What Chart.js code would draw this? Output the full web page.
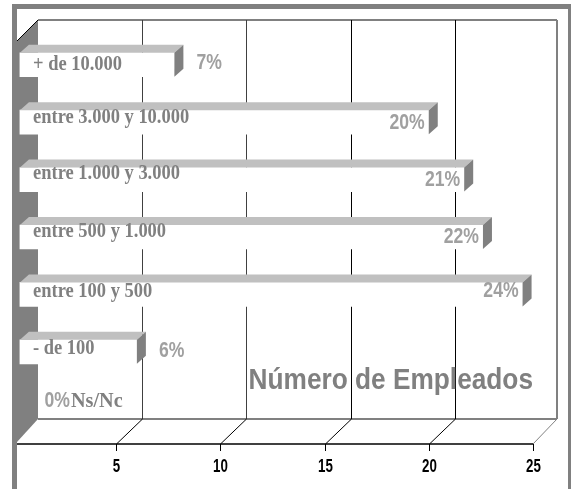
<!DOCTYPE html>
<html>
<head>
<meta charset="utf-8">
<title>Número de Empleados</title>
<script src="https://cdn.jsdelivr.net/npm/chart.js@4"></script>
<style>
  html, body { margin: 0; background: #fff; }
  #wrap { width: 571px; height: 489px; }
</style>
</head>
<body>
<div id="wrap"><canvas id="ch_empleados" width="571" height="489"></canvas></div>
<script>
const categories = ['+ de 10.000', 'entre 3.000 y 10.000', 'entre 1.000 y 3.000', 'entre 500 y 1.000', 'entre 100 y 500', '- de 100', 'Ns/Nc'];
const barValues = [7.8, 20, 21.7, 22.6, 24.5, 6, 0];
const pctLabels = ['7%', '20%', '21%', '22%', '24%', '6%', '0%'];
const xTicks = [5, 10, 15, 20, 25];
const chartTitle = 'Número de Empleados';

// layout of the fake 3D box, all in px
const DX = 25, DY = 25;          // depth of the box
const FLOOR_GAP = 6;             // front axis sits below the category band
const BAR_DX = 9, BAR_DY = 8;    // depth of each bar
const catNudge = [0, -5, -6, -6, -3, -4, -8];
const pctNudge = [-2, 1, 0, 0, -3, -1, -8];

const GREY = '#808080';
const SANS = '"Liberation Sans", sans-serif';
const SERIF = '"Liberation Serif", serif';

function line(ctx, x1, y1, x2, y2, color, w) {
  ctx.strokeStyle = color;
  ctx.lineWidth = w;
  ctx.beginPath();
  ctx.moveTo(x1, y1);
  ctx.lineTo(x2, y2);
  ctx.stroke();
}
function poly(ctx, pts, color) {
  ctx.fillStyle = color;
  ctx.beginPath();
  pts.forEach((p, i) => (i ? ctx.lineTo(p[0], p[1]) : ctx.moveTo(p[0], p[1])));
  ctx.closePath();
  ctx.fill();
}
// the original text is squeezed sideways, no narrow font is installed
function squeezed(ctx, text, x, y, sx) {
  ctx.save();
  ctx.translate(x, y);
  ctx.scale(sx, 1);
  ctx.fillText(text, 0, 0);
  ctx.restore();
}

/* ── box behind the bars: frame, walls, floor, grid ─────────────── */
const boxPlugin = {
  id: 'box',
  beforeDatasetsDraw(chart) {
    const { ctx, chartArea: a, scales: { x } } = chart;
    const front = a.bottom + FLOOR_GAP;
    const back = front - DY;
    const top = 20;
    ctx.save();

    // outer frame
    ctx.fillStyle = GREY;
    ctx.fillRect(12, 4, 559, 5);
    ctx.fillRect(12, 4, 5, 485);
    ctx.fillRect(568, 4, 3, 485);

    // left wall
    poly(ctx, [[a.left, top + DY - 4], [a.left + DX - 4, top], [a.left + DX - 4, back], [a.left, front - 2]], GREY);
    line(ctx, a.left, top + DY - 4, a.left + DX - 4, top, '#000', 1);

    // back wall
    const wallR = a.right + DX - 1;
    line(ctx, a.left + DX - 4, top, wallR, top, GREY, 2);
    line(ctx, wallR, top, wallR, back, GREY, 2);
    line(ctx, a.left + DX - 4, back, wallR, back, GREY, 2);
    line(ctx, a.right, front, wallR, back, GREY, 1);

    // grid on the back wall, with its leg across the floor
    ctx.textAlign = 'center';
    ctx.textBaseline = 'middle';
    xTicks.forEach(v => {
      const px = Math.round(x.getPixelForValue(v)) + 0.5;
      if (v < 25) {
        line(ctx, px + DX + 1, top, px + DX + 1, back, v < 15 ? '#404040' : '#000', 1);
        line(ctx, px, front, px + DX + 1, back, '#000', 1);
      }
      line(ctx, px, front, px, front + 7, '#000', 1);
      ctx.fillStyle = '#000';
      ctx.font = 'bold 18px ' + SANS;
      squeezed(ctx, String(v), px, 467, 0.74);
    });

    // front axis
    line(ctx, a.left, front, a.right, front, '#000', 1.5);
    ctx.restore();
  },
  afterDatasetsDraw(chart) {
    const { ctx } = chart;
    const bars = chart.getDatasetMeta(0).data;
    ctx.save();

    // top and side faces of the bars
    bars.forEach((b, i) => {
      if (!barValues[i]) return;
      const t = b.y - b.height / 2, bt = b.y + b.height / 2;
      poly(ctx, [[b.base, t], [b.base + BAR_DX, t - BAR_DY], [b.x + BAR_DX, t - BAR_DY], [b.x, t]], '#c0c0c0');
      poly(ctx, [[b.x, t], [b.x + BAR_DX, t - BAR_DY], [b.x + BAR_DX, bt - BAR_DY], [b.x, bt]], GREY);
    });

    // title
    ctx.textBaseline = 'middle';
    ctx.textAlign = 'right';
    ctx.fillStyle = GREY;
    ctx.font = 'bold 30px ' + SANS;
    squeezed(ctx, chartTitle, 533, 381, 0.875);

    // category names, Ns/Nc has no bar and sits next to its 0%
    ctx.textAlign = 'left';
    ctx.font = 'bold 22px ' + SERIF;
    bars.forEach((b, i) => {
      if (barValues[i]) squeezed(ctx, categories[i], 33, b.y + catNudge[i], 0.84);
      else squeezed(ctx, categories[i], 71, b.y + catNudge[i], 0.92);
    });

    // percentages: inside the long bars, past the end of the short ones
    ctx.fillStyle = '#a0a0a0';
    ctx.font = 'bold 22px ' + SANS;
    bars.forEach((b, i) => {
      const y = b.y + pctNudge[i];
      if (!barValues[i]) {
        ctx.textAlign = 'right';
        squeezed(ctx, pctLabels[i], 70, y, 0.8);
      } else if (barValues[i] > 10) {
        ctx.textAlign = 'right';
        squeezed(ctx, pctLabels[i], b.x - 4, y, 0.8);
      } else {
        ctx.textAlign = 'left';
        squeezed(ctx, pctLabels[i], b.x + 22, y, 0.8);
      }
    });
    ctx.restore();
  }
};

new Chart(document.getElementById('ch_empleados').getContext('2d'), {
  type: 'bar',
  data: {
    labels: categories,
    datasets: [{
      data: barValues,
      base: 0.39,
      backgroundColor: c => (c.raw ? '#fff' : 'transparent'),
      borderWidth: 0,
      barThickness: 24
    }]
  },
  plugins: [boxPlugin],
  options: {
    indexAxis: 'y',
    responsive: false,
    animation: false,
    layout: { padding: { left: 17, right: 38, top: 36, bottom: 11 } },
    plugins: { legend: { display: false }, title: { display: false }, tooltip: { enabled: false } },
    scales: {
      x: {
        min: 0.25,
        max: 25,
        afterBuildTicks: s => { s.ticks = xTicks.map(v => ({ value: v })); },
        afterFit: s => { s.height = 40; },
        grid: { display: false },
        border: { display: false },
        ticks: { display: false }
      },
      y: { display: false }
    }
  }
});
</script>
</body>
</html>
